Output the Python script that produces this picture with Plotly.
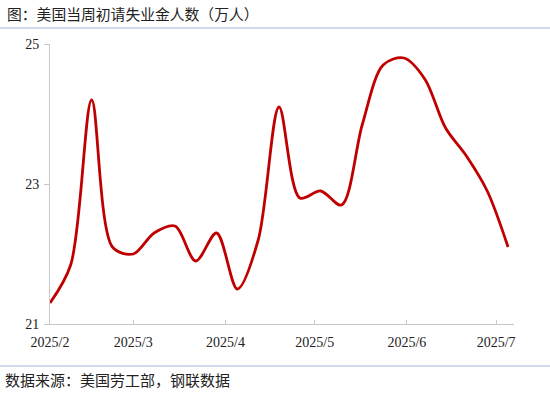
import plotly.graph_objects as go

dates = ["2025-02-01", "2025-02-08", "2025-02-15", "2025-02-22", "2025-03-01",
         "2025-03-08", "2025-03-15", "2025-03-22", "2025-03-29", "2025-04-05",
         "2025-04-12", "2025-04-19", "2025-04-26", "2025-05-03", "2025-05-10",
         "2025-05-17", "2025-05-24", "2025-05-31", "2025-06-07", "2025-06-14",
         "2025-06-21", "2025-06-28", "2025-07-05"]
claims = [21.30, 21.85, 24.20, 22.10, 22.00,
          22.30, 22.40, 21.90, 22.30, 21.50,
          22.20, 24.10, 22.80, 22.90, 22.70,
          23.85, 24.70, 24.80, 24.50, 23.80,
          23.40, 22.90, 22.10]
tick_vals = ["2025-02-01", "2025-03-01", "2025-04-01", "2025-05-01", "2025-06-01", "2025-07-01"]
tick_text = ["2025/2", "2025/3", "2025/4", "2025/5", "2025/6", "2025/7"]

title_text = "图：美国当周初请失业金人数（万人）"
source_text = "数据来源：美国劳工部，钢联数据"

W, H = 550, 394
L, R, T, B = 50, 36, 44, 70
pw, ph = W - L - R, H - T - B

def px(x):
    return (x - L) / pw

def py(y):
    return (H - B - y) / ph

fig = go.Figure()
fig.add_trace(go.Scatter(
    x=dates, y=claims, mode="lines",
    line=dict(color="#C00000", width=2.8, shape="spline", smoothing=0.9),
    showlegend=False, hoverinfo="x+y"))

serif = "Liberation Serif, Times New Roman, serif"
cjk = "Noto Sans CJK SC, sans-serif"

fig.update_layout(
    width=W, height=H,
    margin=dict(l=L, r=R, t=T, b=B),
    paper_bgcolor="white", plot_bgcolor="white",
    xaxis=dict(
        type="date", range=["2025-02-01", "2025-07-07"],
        tickvals=tick_vals, ticktext=tick_text,
        showgrid=False, zeroline=False,
        showline=True, linecolor="#c8c8c8", linewidth=1,
        ticks="inside", ticklen=4, tickcolor="#c8c8c8",
        ticklabelstandoff=5,
        tickfont=dict(family=serif, size=14, color="#222"),
    ),
    yaxis=dict(
        range=[21, 25], tickvals=[21, 23, 25],
        showgrid=False, zeroline=False,
        showline=True, linecolor="#c8c8c8", linewidth=1,
        ticks="outside", ticklen=5, tickcolor="#c8c8c8",
        ticklabelstandoff=2,
        tickfont=dict(family=serif, size=14, color="#222"),
    ),
    shapes=[
        dict(type="line", xref="paper", yref="paper",
             x0=px(0), x1=px(W), y0=py(28), y1=py(28),
             line=dict(color="#9db8d9", width=1.2)),
        dict(type="line", xref="paper", yref="paper",
             x0=px(0), x1=px(W), y0=py(366), y1=py(366),
             line=dict(color="#9db8d9", width=1.2)),
    ],
    annotations=[
        dict(text=title_text, xref="paper", yref="paper",
             x=px(5), y=py(14), xanchor="left", yanchor="middle",
             showarrow=False, font=dict(family=cjk, size=14.8, color="#222")),
        dict(text=source_text, xref="paper", yref="paper",
             x=px(3), y=py(379), xanchor="left", yanchor="middle",
             showarrow=False, font=dict(family=cjk, size=15, color="#222")),
    ],
)

fig.write_html("out.html", config={"displayModeBar": False},
               post_script="document.body.style.margin='0';")
